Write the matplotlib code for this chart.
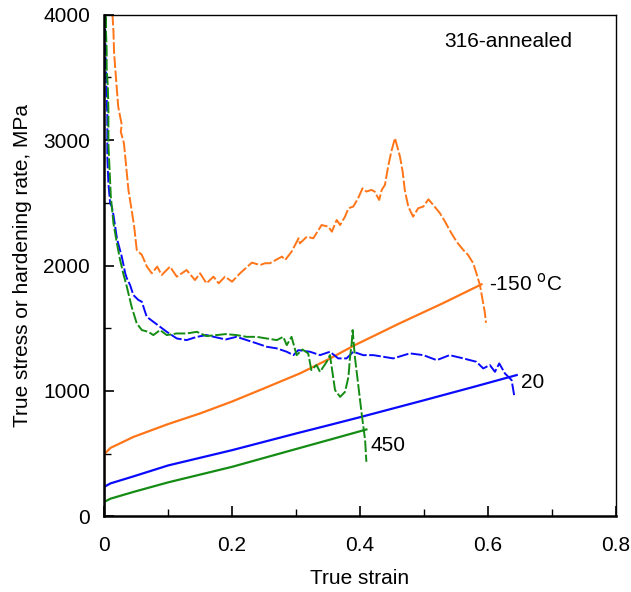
import matplotlib.pyplot as plt
from matplotlib.ticker import MultipleLocator

plt.rcParams['font.family'] = ['Liberation Sans', 'DejaVu Sans']

# true stress curves (solid)
strain_m150 = [0, 0, 0.01, 0.046, 0.10, 0.15, 0.20, 0.25, 0.306, 0.35, 0.392, 0.4625, 0.53, 0.59]
stress_m150 = [0, 495, 545, 633, 735, 820, 915, 1020, 1139, 1250, 1365, 1540, 1700, 1850]
strain_20 = [0, 0, 0.01, 0.046, 0.10, 0.20, 0.30, 0.358, 0.40, 0.50, 0.58, 0.645]
stress_20 = [0, 234, 262, 318, 405, 527, 660, 735, 790, 925, 1035, 1126]
strain_450 = [0, 0, 0.01, 0.046, 0.10, 0.20, 0.30, 0.358, 0.41]
stress_450 = [0, 114, 140, 194, 270, 394, 536, 618, 692]

# hardening rate curves (dashed)
hs_m150 = [0.013, 0.0146, 0.0156, 0.019, 0.022, 0.0276, 0.026, 0.031, 0.034, 0.038, 0.043,
           0.047, 0.051, 0.059, 0.067, 0.0745, 0.083, 0.09, 0.103, 0.1136, 0.129, 0.142,
           0.15, 0.16, 0.171, 0.179, 0.189, 0.20, 0.2125, 0.231, 0.244, 0.2516, 0.259,
           0.278, 0.283, 0.293, 0.304, 0.306, 0.317, 0.327, 0.34, 0.3505, 0.356, 0.3636,
           0.369, 0.3766, 0.382, 0.3895, 0.397, 0.404, 0.41, 0.418, 0.423, 0.43, 0.434,
           0.439, 0.444, 0.449, 0.4547, 0.4625, 0.4667, 0.47, 0.4755, 0.483, 0.491, 0.499,
           0.507, 0.5145, 0.525, 0.533, 0.54, 0.551, 0.5615, 0.569, 0.577, 0.582, 0.5875,
           0.5917, 0.595, 0.597]
hr_m150 = [4008, 3867, 3694, 3467, 3268, 3122, 3068, 2975, 2816, 2603, 2443,
           2310, 2124, 2084, 1991, 1938, 1991, 1924, 1991, 1911, 1964, 1884,
           1938, 1858, 1911, 1858, 1911, 1871, 1938, 2023, 2004, 2018, 2018,
           2071, 2044, 2110, 2217, 2177, 2230, 2217, 2323, 2310, 2270, 2363,
           2323, 2390, 2457, 2470, 2536, 2616, 2590, 2603, 2590, 2523, 2603,
           2643, 2789, 2909, 3016, 2869, 2749, 2603, 2470, 2390, 2457, 2470,
           2528, 2483, 2417, 2350, 2283, 2190, 2124, 2084, 2018, 1938, 1844,
           1725, 1631, 1543]

hs_20 = [0.0016, 0.0016, 0.003, 0.004, 0.005, 0.005, 0.005, 0.0067, 0.0094, 0.012, 0.0146,
         0.02, 0.022, 0.0276, 0.033, 0.0355, 0.0406, 0.0458, 0.0536, 0.059, 0.064, 0.0667,
         0.077, 0.0875, 0.098, 0.1136, 0.129, 0.145, 0.16, 0.176, 0.19, 0.207, 0.223,
         0.2386, 0.254, 0.27, 0.2855, 0.296, 0.3036, 0.322, 0.3375, 0.353, 0.366, 0.379,
         0.3895, 0.405, 0.421, 0.4365, 0.452, 0.478, 0.499, 0.52, 0.54, 0.5615, 0.582,
         0.5927, 0.603, 0.611, 0.6177, 0.6266, 0.637, 0.641]
hr_20 = [4000, 3827, 3574, 3348, 3188, 3082, 2869, 2656, 2497, 2470, 2403,
         2217, 2177, 2071, 1938, 1898, 1844, 1764, 1725, 1711, 1631, 1591,
         1551, 1511, 1471, 1418, 1405, 1431, 1445, 1426, 1410, 1431, 1405,
         1379, 1352, 1339, 1312, 1285, 1325, 1312, 1285, 1312, 1259, 1259,
         1312, 1285, 1285, 1272, 1259, 1299, 1285, 1245, 1285, 1259, 1232,
         1179, 1206, 1152, 1219, 1139, 1086, 966]

hs_450 = [0.003, 0.003, 0.004, 0.004, 0.0058, 0.0067, 0.0067, 0.0083, 0.0105, 0.0146,
          0.02, 0.025, 0.030, 0.0355, 0.043, 0.051, 0.059, 0.069, 0.077, 0.0875, 0.098,
          0.1136, 0.129, 0.145, 0.16, 0.176, 0.19, 0.207, 0.223, 0.2386, 0.254, 0.27,
          0.28, 0.2855, 0.293, 0.298, 0.301, 0.31, 0.319, 0.324, 0.332, 0.3375, 0.348,
          0.353, 0.358, 0.361, 0.369, 0.3766, 0.382, 0.384, 0.387, 0.3885, 0.392, 0.397,
          0.4026, 0.408, 0.41]
hr_450 = [3987, 3854, 3720, 3574, 3428, 3242, 2975, 2789, 2549, 2337,
          2177, 2044, 1935, 1831, 1671, 1538, 1485, 1471, 1445, 1485, 1445,
          1458, 1458, 1471, 1437, 1445, 1453, 1445, 1431, 1431, 1418, 1405,
          1431, 1365, 1431, 1339, 1285, 1330, 1299, 1166, 1206, 1152, 1232,
          1285, 1112, 1006, 952, 992, 1112, 1245, 1379, 1485, 1272, 1059,
          820, 607, 434]

c_orange = '#ff7518'
c_blue = '#0a0aff'
c_green = '#148c14'
dash = (0, (6, 1.3))

fig, ax = plt.subplots(figsize=(6.31, 5.92), dpi=100)
fig.subplots_adjust(left=0.165, right=0.976, top=0.975, bottom=0.128)

ax.plot(strain_m150, stress_m150, color=c_orange, lw=1.6)
ax.plot(strain_20, stress_20, color=c_blue, lw=1.6)
ax.plot(strain_450, stress_450, color=c_green, lw=1.6)

ax.plot(hs_m150, hr_m150, color=c_orange, lw=1.4, linestyle=dash)
ax.plot(hs_20, hr_20, color=c_blue, lw=1.4, linestyle=dash)
ax.plot(hs_450, hr_450, color=c_green, lw=1.4, linestyle=dash)

ax.text(0.602, 1860, r'-150 $^{\mathrm{o}}$C', fontsize=15, va='center', ha='left')
ax.text(0.651, 1070, '20', fontsize=15, va='center', ha='left')
ax.text(0.416, 567, '450', fontsize=15, va='center', ha='left')
ax.text(0.631, 3784, '316-annealed', fontsize=15, va='center', ha='center')

ax.set_xlim(0, 0.8)
ax.set_ylim(0, 4000)
ax.set_xticks([0, 0.2, 0.4, 0.6, 0.8])
ax.set_xticklabels(['0', '0.2', '0.4', '0.6', '0.8'])
ax.xaxis.set_minor_locator(MultipleLocator(0.1))
ax.yaxis.set_major_locator(MultipleLocator(1000))
ax.yaxis.set_minor_locator(MultipleLocator(500))
ax.tick_params(which='both', direction='in', labelsize=15)
ax.tick_params(axis='x', which='major', pad=14)
ax.tick_params(axis='y', which='major', pad=10)
ax.tick_params(which='major', length=7, width=1.2)
ax.tick_params(which='minor', length=5, width=1.0)
for s in ax.spines.values():
    s.set_linewidth(1.0)
ax.spines['left'].set_linewidth(1.8)
ax.spines['bottom'].set_linewidth(1.8)

ax.set_xlabel('True strain', fontsize=15, labelpad=10)
ax.set_ylabel('True stress or hardening rate, MPa', fontsize=15, labelpad=8)

plt.savefig('out.png', dpi=100)
